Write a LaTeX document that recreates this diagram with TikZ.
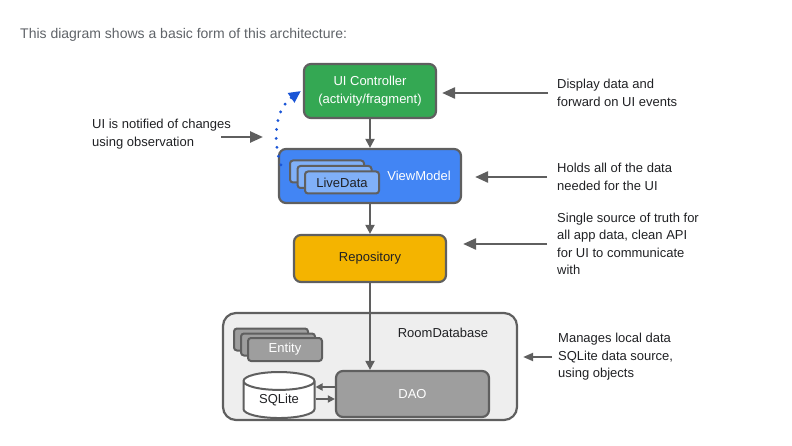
\documentclass[tikz,border=0pt]{standalone}
\usepackage{fontspec}
\setmainfont{Liberation Sans}
\usetikzlibrary{shapes.geometric,arrows.meta}

\definecolor{edge}{HTML}{5F5F5F}
\definecolor{ctrlgreen}{HTML}{34A853}
\definecolor{vmblue}{HTML}{4285F4}
\definecolor{liveblue}{HTML}{80B0F8}
\definecolor{repoyellow}{HTML}{F4B400}
\definecolor{daogray}{HTML}{9E9E9E}
\definecolor{roomgray}{HTML}{EEEEEE}
\definecolor{notetext}{HTML}{202124}
\definecolor{titlegray}{HTML}{5F6368}
\definecolor{obsblue}{HTML}{1A55D6}
\newcommand{\txt}{\fontsize{13}{17.5}\selectfont}

\begin{document}
\begin{tikzpicture}[x=1pt,y=-1pt,node distance=85pt,
  box/.style={draw=edge,line width=2.2pt,rounded corners=7pt,align=center,font=\txt,inner sep=0pt},
  stack/.style={draw=edge,line width=2pt,rounded corners=3pt,minimum width=74pt,minimum height=22pt,inner sep=0pt,font=\txt},
  note/.style={anchor=west,align=left,font=\txt,text=notetext,inner sep=0pt},
  flow/.style={draw=edge,line width=2pt,-{Triangle[length=9pt,width=9pt]}},
  pointer/.style={draw=edge,line width=2.5pt,-{Triangle[length=13pt,width=11pt]}},
  small/.style={draw=edge,line width=1.8pt,-{Triangle[length=7pt,width=7pt]}}]
\useasboundingbox (0,0) rectangle (792,446);

\node[anchor=west,inner sep=0pt,text=titlegray,font=\fontsize{14}{16}\selectfont] (title) at (20,35) {This diagram shows a basic form of this architecture:};

% main column
\node[box,fill=ctrlgreen,text=white,minimum width=132pt,minimum height=54pt] (uictrl) at (370,91) {UI Controller\\(activity/fragment)};
\node[box,fill=vmblue,minimum width=182pt,minimum height=54pt,below of=uictrl,
  label={[text=white,font=\txt,xshift=49pt]center:ViewModel}] (viewmodel) {};
\node[box,fill=repoyellow,text=notetext,minimum width=152pt,minimum height=47pt,below of=viewmodel,node distance=82.5pt] (repo) {Repository};
\node[box,fill=roomgray,rounded corners=13pt,minimum width=294pt,minimum height=107pt,below of=repo,node distance=108pt,
  label={[text=notetext,font=\txt,xshift=73pt,yshift=33.5pt]center:RoomDatabase}] (room) {};

% livedata stack
\node[stack,fill=liveblue] (liveback1) at ([shift={(-43,-4.5)}]viewmodel) {};
\node[stack,fill=liveblue] (liveback2) at ([shift={(-35.5,1)}]viewmodel) {};
\node[stack,fill=liveblue,text=notetext] (livedata) at ([shift={(-28,6.5)}]viewmodel) {LiveData};

% entity stack
\node[stack,fill=daogray] (entityback1) at ([shift={(-99,-27)}]room) {};
\node[stack,fill=daogray] (entityback2) at ([shift={(-92,-22)}]room) {};
\node[stack,fill=daogray,text=white,minimum height=23pt] (entity) at ([shift={(-85,-17)}]room) {Entity};

\node[box,fill=daogray,text=white,minimum width=153pt,minimum height=46pt] (dao) at ([shift={(42.5,27.5)}]room) {DAO};
\node[cylinder,shape border rotate=90,aspect=0.45,draw=edge,line width=2pt,fill=white,text=notetext,font=\txt,
  minimum width=71pt,minimum height=46pt,inner sep=0pt,left of=dao,node distance=133.5pt,yshift=-6pt] (sqlite) {SQLite};

\draw[flow] (uictrl) -- (viewmodel);
\draw[flow] (viewmodel) -- (repo);
\draw[flow] (repo) -- (repo |- dao.north);
\draw[small] ([yshift=7pt]dao.west) -- ([yshift=7pt]dao.west -| sqlite.east);
\draw[small] ([yshift=-5pt]dao.west -| sqlite.east) -- ([yshift=-5pt]dao.west);

% notes
\node[note] (displaynote) at (557,93) {Display data and\\forward on UI events};
\node[note] (holdsnote) at (557,177) {Holds all of the data\\needed for the UI};
\node[note] (truthnote) at (557,244) {Single source of truth for\\all app data, clean API\\for UI to communicate\\with};
\node[note] (roomnote) at (558,357) {Manages local data\\SQLite data source,\\using objects};
\node[note] (obsnote) at (92,134) {UI is notified of changes\\using observation};
\coordinate (obs) at (263,137);

\draw[pointer,shorten <=9pt,shorten >=5pt] (displaynote.west) -- (displaynote.west -| uictrl.east);
\draw[pointer,shorten <=10pt,shorten >=13pt] (holdsnote.west) -- (holdsnote.west -| viewmodel.east);
\draw[pointer,shorten <=10pt,shorten >=16pt] (truthnote.west) -- (truthnote.west -| repo.east);
\draw[draw=edge,line width=2pt,-{Triangle[length=10pt,width=8pt]},shorten <=6pt,shorten >=5pt] (roomnote.west) -- (roomnote.west -| room.east);
\draw[pointer] ([xshift=-10pt]obsnote.east |- obs) -- (obs);

\draw[obsblue,line width=3.2pt,line cap=round,dash pattern=on 0pt off 9pt,-{Triangle[length=12pt,width=11pt]}]
  ([xshift=3pt,yshift=-17pt]viewmodel.north west) to[out=108,in=215] ([xshift=-2pt]uictrl.west);
\end{tikzpicture}
\end{document}
